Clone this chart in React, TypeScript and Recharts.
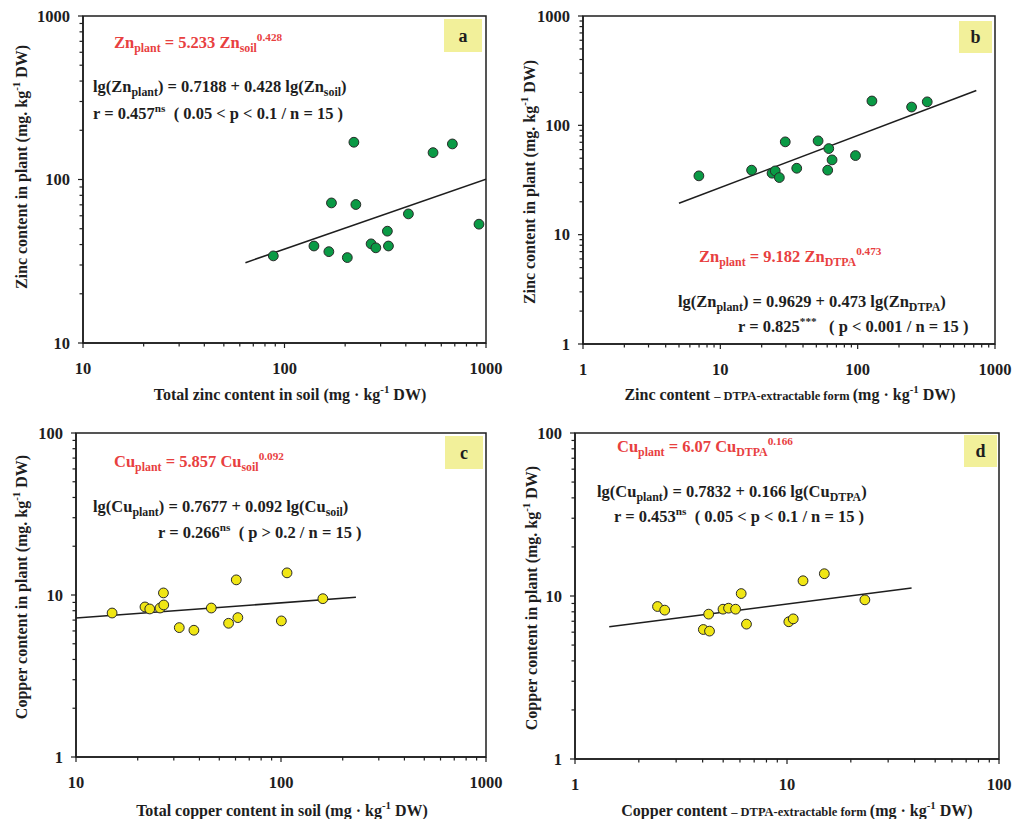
import { ScatterChart, Scatter, XAxis, YAxis, ReferenceArea } from 'recharts';

const FONT = '"Liberation Serif", "Times New Roman", serif';
const INK = '#1e1e1e';
const RED = '#e8403f';

// panel a: plant Zn vs total soil Zn
const ZN_SOIL = [88, 140, 166, 171, 205, 221, 226, 269, 284, 324, 328, 412, 546, 681, 923];
const ZN_PLANT_A = [34.1, 39.2, 36.2, 71.9, 33.3, 169, 70.3, 40.4, 38.2, 48.3, 39.2, 61.6, 146, 165, 53.3];
const ZN_SOIL_FIT_X = [64, 1000];
const ZN_SOIL_FIT_Y = [31, 100.5];

// panel b: plant Zn vs DTPA Zn
const ZN_DTPA = [6.98, 16.9, 23.8, 25.1, 26.9, 29.7, 36.0, 51.5, 60.5, 61.6, 65.1, 96.4, 127, 247, 321];
const ZN_PLANT_B = [34.5, 38.9, 36.5, 38.3, 33.3, 70.6, 40.5, 72.1, 38.9, 61.3, 48.3, 52.9, 167, 147, 164];
const ZN_DTPA_FIT_X = [5, 731];
const ZN_DTPA_FIT_Y = [19.4, 208];

// panel c: plant Cu vs total soil Cu
const CU_SOIL = [15.0, 21.7, 22.9, 25.7, 26.7, 26.8, 31.9, 37.6, 45.7, 55.5, 60.5, 61.6, 100.4, 107, 160];
const CU_PLANT_C = [7.74, 8.44, 8.2, 8.31, 10.3, 8.68, 6.29, 6.06, 8.31, 6.69, 12.4, 7.25, 6.92, 13.7, 9.49];
const CU_SOIL_FIT_X = [10, 232];
const CU_SOIL_FIT_Y = [7.21, 9.68];

// panel d: plant Cu vs DTPA Cu
const CU_DTPA = [2.45, 2.65, 4.03, 4.27, 4.31, 4.99, 5.3, 5.72, 6.08, 6.44, 10.2, 10.7, 11.9, 15.0, 23.3];
const CU_PLANT_D = [8.62, 8.19, 6.23, 7.74, 6.09, 8.3, 8.42, 8.3, 10.35, 6.72, 6.95, 7.24, 12.4, 13.7, 9.47];
const CU_DTPA_FIT_X = [1.45, 38.7];
const CU_DTPA_FIT_Y = [6.47, 11.2];

// major tick labels
const TICKS_10_1000 = [10, 100, 1000];
const TICKS_1_1000 = [1, 10, 100, 1000];
const TICKS_1_100 = [1, 10, 100];

// majors plus the 2..9 minors of each decade
const withMinors = (majors: number[]) => {
  const out = [...majors];
  majors.slice(0, -1).forEach((d) => {
    for (let k = 2; k < 10; k++) out.push(d * k);
  });
  return out.sort((a, b) => a - b);
};

const pairs = (xs: number[], ys: number[]) => xs.map((x, i) => ({ x, y: ys[i] }));

function XTick(props: any) {
  const { x, y, payload, majors } = props;
  const major = majors.includes(payload.value);
  return (
    <g>
      <line x1={x} x2={x} y1={y} y2={y + (major ? 5 : 3.5)} stroke={INK} strokeWidth={1.2} />
      {major && (
        <text x={x} y={y + 31} textAnchor="middle" fontFamily={FONT} fontWeight="bold" fontSize={16.5} fill={INK}>
          {payload.value}
        </text>
      )}
    </g>
  );
}

function YTick(props: any) {
  const { x, y, payload, majors } = props;
  const major = majors.includes(payload.value);
  return (
    <g>
      <line x1={x} x2={x - (major ? 5 : 3.5)} y1={y} y2={y} stroke={INK} strokeWidth={1.2} />
      {major && (
        <text x={x - 13} y={y + 5.5} textAnchor="end" fontFamily={FONT} fontWeight="bold" fontSize={16.5} fill={INK}>
          {payload.value}
        </text>
      )}
    </g>
  );
}

type PanelProps = {
  left: number;
  top: number;
  width: number;
  height: number;
  margin: { top: number; right: number; bottom: number; left: number };
  yWidth: number;
  xHeight: number;
  xMajors: number[];
  yMajors: number[];
  points: { x: number; y: number }[];
  fit: { x: number; y: number }[];
  fill: string;
};

function Panel(p: PanelProps) {
  const xd = [p.xMajors[0], p.xMajors[p.xMajors.length - 1]];
  const yd = [p.yMajors[0], p.yMajors[p.yMajors.length - 1]];
  return (
    <div style={{ position: 'absolute', left: p.left, top: p.top }}>
      <ScatterChart width={p.width} height={p.height} margin={p.margin}>
        <XAxis
          dataKey="x"
          type="number"
          scale="log"
          domain={xd}
          ticks={withMinors(p.xMajors)}
          interval={0}
          tickSize={0}
          tickMargin={0}
          tickLine={false}
          height={p.xHeight}
          axisLine={{ stroke: INK, strokeWidth: 1.5 }}
          tick={(t: any) => <XTick {...t} majors={p.xMajors} />}
          allowDataOverflow
        />
        <YAxis
          dataKey="y"
          type="number"
          scale="log"
          domain={yd}
          ticks={withMinors(p.yMajors)}
          interval={0}
          tickSize={0}
          tickMargin={0}
          tickLine={false}
          width={p.yWidth}
          axisLine={{ stroke: INK, strokeWidth: 1.5 }}
          tick={(t: any) => <YTick {...t} majors={p.yMajors} />}
          allowDataOverflow
        />
        <ReferenceArea x1={xd[0]} x2={xd[1]} y1={yd[0]} y2={yd[1]} fill="none" stroke={INK} strokeWidth={1.5} fillOpacity={0} />
        <Scatter
          data={p.fit}
          line={{ stroke: INK, strokeWidth: 1.6 }}
          shape={() => <g />}
          isAnimationActive={false}
        />
        <Scatter
          data={p.points}
          isAnimationActive={false}
          shape={(s: any) => <circle cx={s.cx} cy={s.cy} r={4.9} fill={p.fill} stroke="#2a2a2a" strokeWidth={1} />}
        />
      </ScatterChart>
    </div>
  );
}

type Part = [string, 'n' | 'sub' | 'sup' | 'small'];

function Rich({ x, y, parts, size = 16.5, fill = INK, anchor = 'start', rotate = false }: {
  x: number; y: number; parts: Part[]; size?: number; fill?: string; anchor?: string; rotate?: boolean;
}) {
  let level = 0;
  const spans = parts.map(([t, kind], i) => {
    const target = kind === 'sub' ? 4 : kind === 'sup' ? -7 : 0;
    const dy = target - level;
    level = target;
    const fs = kind === 'sub' ? size * 0.72 : kind === 'sup' ? size * 0.68 : kind === 'small' ? size * 0.78 : size;
    return (
      <tspan key={i} dy={dy} fontSize={fs}>
        {t}
      </tspan>
    );
  });
  return (
    <text
      x={x}
      y={y}
      textAnchor={anchor as any}
      fontFamily={FONT}
      fontWeight="bold"
      fontSize={size}
      fill={fill}
      transform={rotate ? `rotate(-90 ${x} ${y})` : undefined}
      style={{ whiteSpace: 'pre' }}
    >
      {spans}
    </text>
  );
}

function Tag({ x, y, w, h, label }: { x: number; y: number; w: number; h: number; label: string }) {
  return (
    <g>
      <rect x={x} y={y} width={w} height={h} fill="#f2f09a" />
      <text x={x + w / 2} y={y + h / 2 + 6} textAnchor="middle" fontFamily={FONT} fontWeight="bold" fontSize={18} fill={INK}>
        {label}
      </text>
    </g>
  );
}

const UNIT: Part[] = [['(mg · kg', 'n'], ['-1', 'sup'], [' DW)', 'n']];
const UNIT_Y: Part[] = [['(mg. kg', 'n'], ['-1', 'sup'], [' DW)', 'n']];

export default function App() {
  return (
    <div style={{ position: 'absolute', left: 0, top: 0, width: 1014, height: 819, background: '#fff', overflow: 'hidden' }}>
      <Panel
        left={0} top={0} width={520} height={410}
        margin={{ top: 16, right: 34, bottom: 0, left: 0 }}
        yWidth={83} xHeight={67}
        xMajors={TICKS_10_1000} yMajors={TICKS_10_1000}
        points={pairs(ZN_SOIL, ZN_PLANT_A)} fit={pairs(ZN_SOIL_FIT_X, ZN_SOIL_FIT_Y)}
        fill="#0a9a45"
      />
      <Panel
        left={500} top={0} width={514} height={410}
        margin={{ top: 16, right: 19, bottom: 0, left: 0 }}
        yWidth={83} xHeight={66}
        xMajors={TICKS_1_1000} yMajors={TICKS_1_1000}
        points={pairs(ZN_DTPA, ZN_PLANT_B)} fit={pairs(ZN_DTPA_FIT_X, ZN_DTPA_FIT_Y)}
        fill="#0a9a45"
      />
      <Panel
        left={0} top={410} width={520} height={409}
        margin={{ top: 23, right: 34, bottom: 0, left: 0 }}
        yWidth={76} xHeight={62}
        xMajors={TICKS_10_1000} yMajors={TICKS_1_100}
        points={pairs(CU_SOIL, CU_PLANT_C)} fit={pairs(CU_SOIL_FIT_X, CU_SOIL_FIT_Y)}
        fill="#f0e614"
      />
      <Panel
        left={500} top={410} width={514} height={409}
        margin={{ top: 23, right: 15, bottom: 0, left: 0 }}
        yWidth={75} xHeight={60}
        xMajors={TICKS_1_100} yMajors={TICKS_1_100}
        points={pairs(CU_DTPA, CU_PLANT_D)} fit={pairs(CU_DTPA_FIT_X, CU_DTPA_FIT_Y)}
        fill="#f0e614"
      />
      <svg width={1014} height={819} style={{ position: 'absolute', left: 0, top: 0, pointerEvents: 'none' }}>
        {/* a */}
        <Tag x={444} y={19} w={38} h={33} label="a" />
        <Rich x={114} y={48} fill={RED} parts={[['Zn', 'n'], ['plant', 'sub'], [' = 5.233 Zn', 'n'], ['soil', 'sub'], ['0.428', 'sup']]} />
        <Rich x={93} y={92} parts={[['lg(Zn', 'n'], ['plant', 'sub'], [') = 0.7188 + 0.428 lg(Zn', 'n'], ['soil', 'sub'], [')', 'n']]} />
        <Rich x={93} y={119} parts={[['r = 0.457', 'n'], ['ns', 'sup'], ['  ( 0.05 < p < 0.1 / n = 15 )', 'n']]} />
        <Rich x={290} y={400} anchor="middle" size={16} parts={[['Total zinc content in soil ', 'n'], ...UNIT]} />
        <Rich x={27} y={167} anchor="middle" size={16} rotate parts={[['Zinc content in plant ', 'n'], ...UNIT_Y]} />

        {/* b */}
        <Tag x={959} y={21} w={33} h={32} label="b" />
        <Rich x={699} y={262} fill={RED} parts={[['Zn', 'n'], ['plant', 'sub'], [' = 9.182 Zn', 'n'], ['DTPA', 'sub'], ['0.473', 'sup']]} />
        <Rich x={678} y={307} parts={[['lg(Zn', 'n'], ['plant', 'sub'], [') = 0.9629 + 0.473 lg(Zn', 'n'], ['DTPA', 'sub'], [')', 'n']]} />
        <Rich x={738} y={332} parts={[['r = 0.825', 'n'], ['***', 'sup'], ['   ( p < 0.001 / n = 15 )', 'n']]} />
        <Rich x={790} y={400} anchor="middle" size={16} parts={[['Zinc content ', 'n'], ['– DTPA-extractable form ', 'small'], ...UNIT]} />
        <Rich x={535} y={182} anchor="middle" size={16} rotate parts={[['Zinc content in plant ', 'n'], ...UNIT_Y]} />

        {/* c */}
        <Tag x={445} y={436} w={38} h={33} label="c" />
        <Rich x={114} y={467} fill={RED} parts={[['Cu', 'n'], ['plant', 'sub'], [' = 5.857 Cu', 'n'], ['soil', 'sub'], ['0.092', 'sup']]} />
        <Rich x={93} y={512} parts={[['lg(Cu', 'n'], ['plant', 'sub'], [') = 0.7677 + 0.092 lg(Cu', 'n'], ['soil', 'sub'], [')', 'n']]} />
        <Rich x={158} y={538} parts={[['r = 0.266', 'n'], ['ns', 'sup'], ['  ( p > 0.2 / n = 15 )', 'n']]} />
        <Rich x={282} y={816} anchor="middle" size={16} parts={[['Total copper content in soil ', 'n'], ...UNIT]} />
        <Rich x={27} y={587} anchor="middle" size={16} rotate parts={[['Copper content in plant ', 'n'], ...UNIT_Y]} />

        {/* d */}
        <Tag x={964} y={435} w={33} h={32} label="d" />
        <Rich x={617} y={452} fill={RED} parts={[['Cu', 'n'], ['plant', 'sub'], [' = 6.07 Cu', 'n'], ['DTPA', 'sub'], ['0.166', 'sup']]} />
        <Rich x={597} y={497} parts={[['lg(Cu', 'n'], ['plant', 'sub'], [') = 0.7832 + 0.166 lg(Cu', 'n'], ['DTPA', 'sub'], [')', 'n']]} />
        <Rich x={614} y={522} parts={[['r = 0.453', 'n'], ['ns', 'sup'], ['  ( 0.05 < p < 0.1 / n = 15 )', 'n']]} />
        <Rich x={797} y={816} anchor="middle" size={16} parts={[['Copper content ', 'n'], ['– DTPA-extractable form ', 'small'], ...UNIT]} />
        <Rich x={537} y={598} anchor="middle" size={16} rotate parts={[['Copper content in plant ', 'n'], ...UNIT_Y]} />
      </svg>
    </div>
  );
}
